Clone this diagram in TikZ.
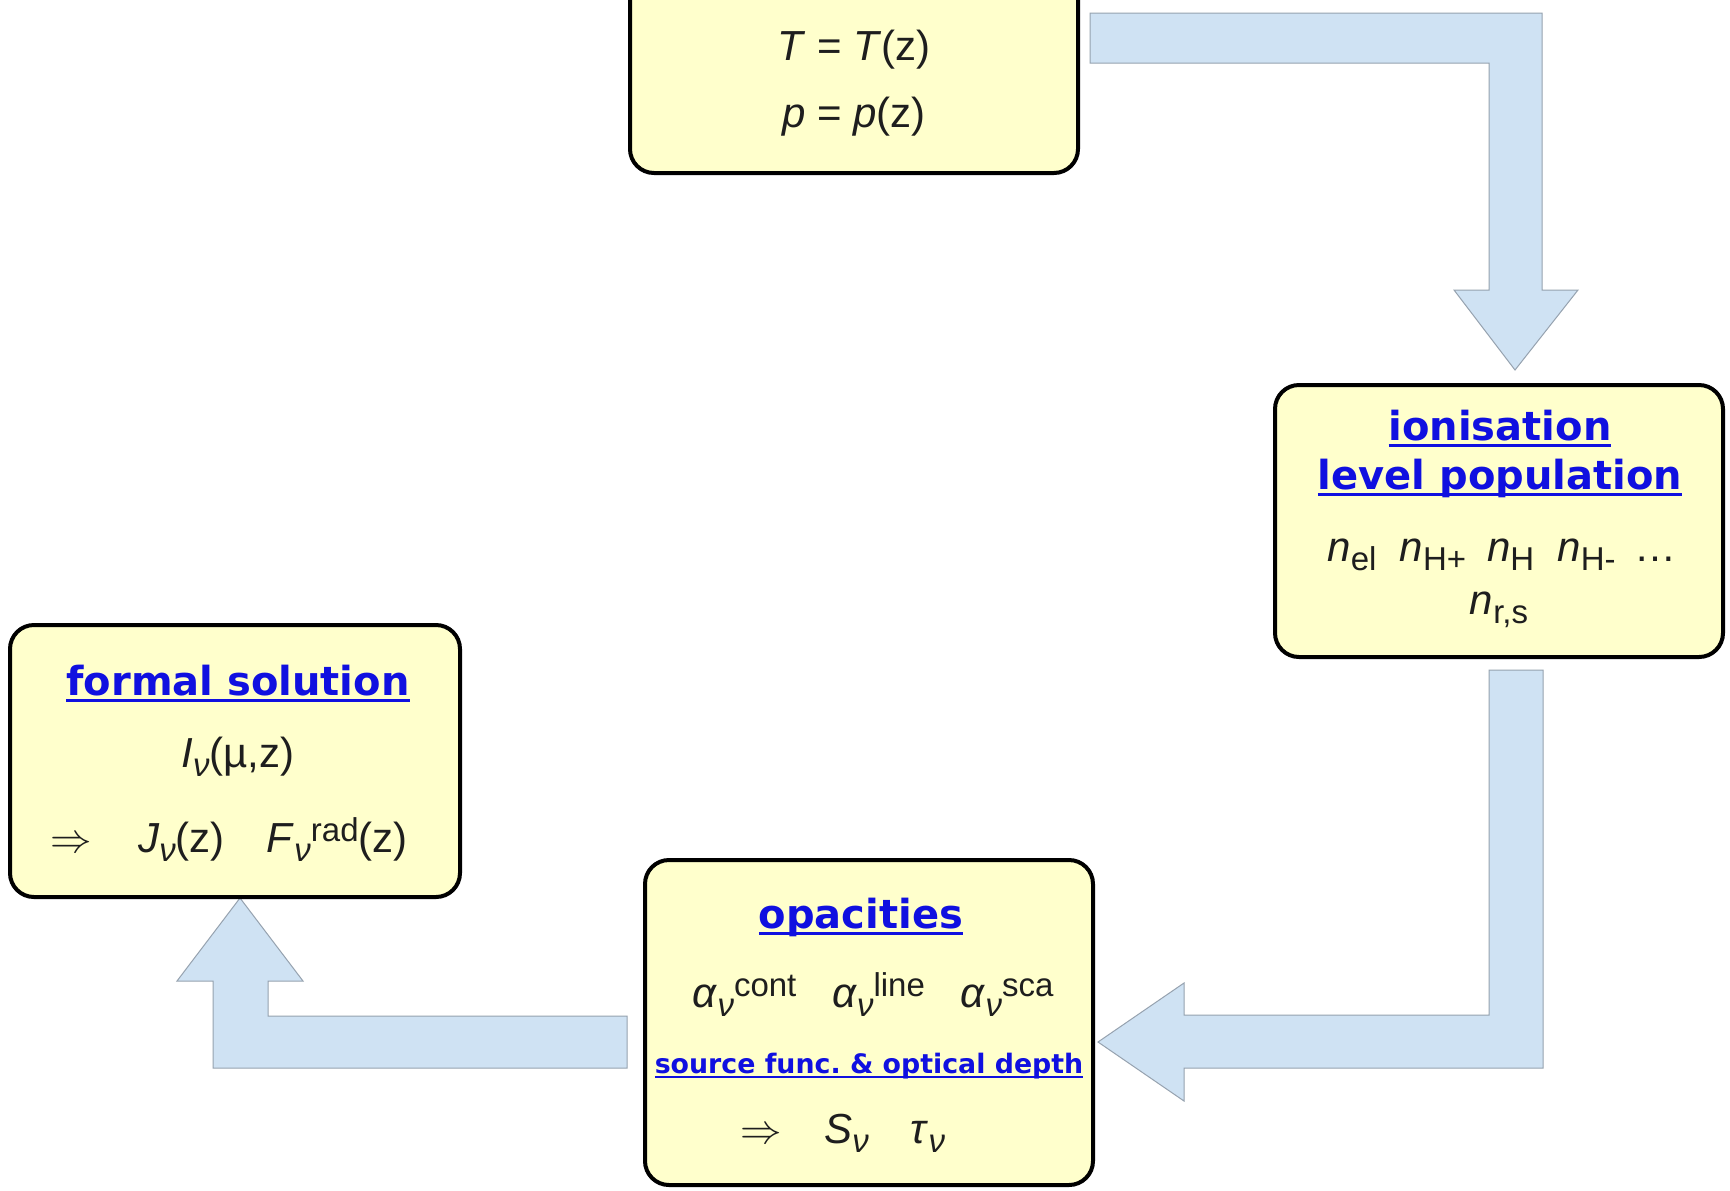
\documentclass[tikz,border=0pt]{standalone}
\usepackage{fontspec}
\setmainfont{Liberation Sans}
\newfontfamily\headfamily{DejaVu Sans}
\usetikzlibrary{fit}
\frenchspacing

\definecolor{boxfill}{RGB}{255,255,204}
\definecolor{arrowfill}{RGB}{207,226,243}
\definecolor{arrowedge}{RGB}{150,162,175}
\definecolor{linkblue}{RGB}{16,16,224}
\definecolor{ink}{RGB}{30,30,30}

% underline at a fixed depth below the baseline, as for a hyperlink
\newcommand\linkul[1]{\setbox0\hbox{#1}\rlap{\rule[-0.17em]{\wd0}{0.065em}}\box0}
% lowered / raised small text for indices
\newcommand\lo[1]{\raisebox{-0.22em}{\fontsize{16.5}{16.5}\selectfont #1}}
\newcommand\hi[1]{\raisebox{0.26em}{\fontsize{16.5}{16.5}\selectfont #1}}

\begin{document}
\begin{tikzpicture}[x=0.5pt,y=-0.5pt,
  stage/.style={draw=black, line width=2pt, rounded corners=12pt, fill=boxfill, inner sep=0pt},
  blockarrow/.style={fill=arrowfill, draw=arrowedge, line width=0.5pt, line join=miter},
  head/.style={font=\headfamily\bfseries\fontsize{20}{24}\selectfont, text=linkblue, anchor=base, inner sep=0pt},
  subhead/.style={head, font=\headfamily\bfseries\fontsize{13.4}{16}\selectfont},
  body/.style={font=\fontsize{21}{25}\selectfont, text=ink, anchor=base, inner sep=0pt}]

\useasboundingbox (0,0) rectangle (1730,1190);
\clip (0,0) rectangle (1730,1190);
\fill[white] (0,0) rectangle (1730,1190);

% block arrows between the stages
\draw[blockarrow] (1090,13) -- (1542,13) -- (1542,290) -- (1578,290) -- (1515,370)
  -- (1454,290) -- (1489,290) -- (1489,63) -- (1090,63) -- cycle;
\draw[blockarrow] (1489,670) -- (1543,670) -- (1543,1068) -- (1184,1068) -- (1184,1101)
  -- (1098,1042) -- (1184,983) -- (1184,1015) -- (1489,1015) -- cycle;
\draw[blockarrow] (627,1016) -- (627,1068) -- (213,1068) -- (213,981) -- (177,981)
  -- (240,898) -- (303,981) -- (268,981) -- (268,1016) -- cycle;

% stages
\node[stage, fit={(630,-40) (1078,173)}] (atmos) {};
\node[stage, fit={(1275,385) (1723,657)}] (ionis) {};
\node[stage, fit={(10,625) (460,897)}] (formal) {};
\node[stage, fit={(645,860) (1093,1185)}] (opac) {};

% atmosphere structure
\node[body] (tz) at (854,60) {\textit{T} = \textit{T}(z)};
\node[body] (pz) at (854,127) {\textit{p} = \textit{p}(z)};

% ionisation and level population
\node[head] (ionA) at (1500,440) {\linkul{ionisation}};
\node[head] (ionB) at (1500,489) {\linkul{level population}};
\node[body] (dens) at (1502,561) {\textit{n}\lo{el}\hspace{0.55em}\textit{n}\lo{H+}\hspace{0.5em}\textit{n}\lo{H}\hspace{0.55em}\textit{n}\lo{H-}\hspace{0.45em}…};
\node[body] (nrs) at (1499,614) {\textit{n}\lo{r,s}};

% formal solution
\node[head] (fsol) at (238,695) {\linkul{formal solution}};
\node[body] (inu) at (238,767) {\textit{I}\lo{\textit{ν}}(µ,z)};
\node[body] (jf) at (229,852) {$\Rightarrow$\hspace{1.1em}\textit{J}\lo{\textit{ν}}(z)\hspace{1em}\textit{F}\lo{\textit{ν}}\hi{rad}(z)};

% opacities, source function and optical depth
\node[head] (opa) at (861,928) {\linkul{opacities}};
\node[body] (alph) at (873,1007) {\textit{α}\lo{\textit{ν}}\hi{cont}\hspace{0.85em}\textit{α}\lo{\textit{ν}}\hi{line}\hspace{0.85em}\textit{α}\lo{\textit{ν}}\hi{sca}};
\node[subhead] (src) at (869,1073) {\linkul{source func. \& optical depth}};
\node[body] (stau) at (843,1143) {$\Rightarrow$\hspace{1em}\textit{S}\lo{\textit{ν}}\hspace{1em}\textit{τ}\lo{\textit{ν}}};
\end{tikzpicture}
\end{document}
